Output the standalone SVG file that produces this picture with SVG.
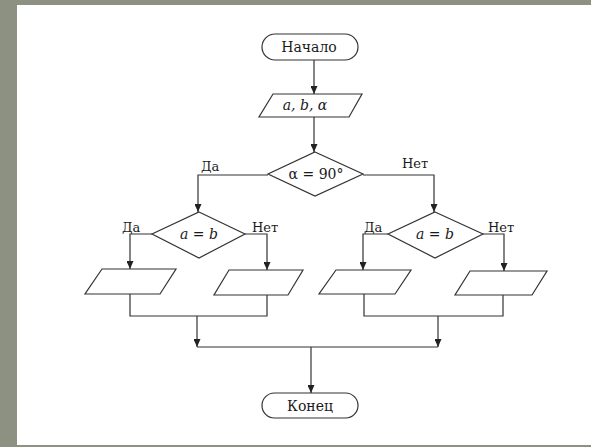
<svg xmlns="http://www.w3.org/2000/svg" width="591" height="447" viewBox="0 0 591 447">
<defs>
<marker id="arr" viewBox="0 0 8 7" refX="8" refY="3.5" markerWidth="8" markerHeight="7" markerUnits="userSpaceOnUse" orient="auto">
<path d="M0,0 L8,3.5 L0,7 z" fill="#222"/>
</marker>
</defs>
<style>
.shape{fill:#fff;stroke:#333;stroke-width:1.2}
.line{fill:none;stroke:#333;stroke-width:1.2}
.arrow{fill:none;stroke:#333;stroke-width:1.2;marker-end:url(#arr)}
text{font-family:'DejaVu Serif','Liberation Serif',serif;fill:#1a1a1a}
.t{font-size:14px;text-anchor:middle}
.lbl{font-size:13px}
.it{font-style:italic}
</style>
<rect x="0" y="0" width="591" height="447" fill="#8d9182"/>
<rect x="17" y="5" width="574" height="440" fill="#fff"/>

<g id="connectors">
<line class="arrow" x1="314" y1="60" x2="314" y2="94"/>
<line class="arrow" x1="314" y1="117" x2="314" y2="152"/>
<polyline class="arrow" points="268,175 198,175 198,212"/>
<polyline class="arrow" points="363,175 434,175 434,212"/>
<polyline class="arrow" points="152,234 130,234 130,269"/>
<polyline class="arrow" points="245,234 267,234 267,270"/>
<polyline class="arrow" points="388,234 363,234 363,270"/>
<polyline class="arrow" points="483,234 504,234 504,271"/>
<polyline class="line" points="130,294 130,316 267,316 267,295"/>
<polyline class="line" points="364,294 364,316 503,316 503,295"/>
<line class="arrow" x1="197" y1="316" x2="197" y2="347"/>
<line class="arrow" x1="438" y1="316" x2="438" y2="347"/>
<line class="line" x1="197" y1="347" x2="438" y2="347"/>
<line class="arrow" x1="311" y1="347" x2="311" y2="393"/>
</g>

<g id="start">
<rect class="shape" x="262" y="34" width="96" height="26" rx="13"/>
<text class="t" x="309" y="52">Начало</text>
</g>
<g id="input">
<polygon class="shape" points="273,94 362,94 349,117 259,117"/>
<text class="t it" x="305" y="110">a, b, α</text>
</g>
<g id="cond-angle">
<polygon class="shape" points="315,152 363,174 315,196 268,174"/>
<text class="t" x="316" y="179">α = 90°</text>
</g>
<g id="cond-left">
<polygon class="shape" points="199,212 245,234 199,258 152,234"/>
<text class="t" x="199" y="239"><tspan class="it">a</tspan> = <tspan class="it">b</tspan></text>
</g>
<g id="cond-right">
<polygon class="shape" points="435,212 483,234 435,258 388,234"/>
<text class="t" x="435" y="239"><tspan class="it">a</tspan> = <tspan class="it">b</tspan></text>
</g>
<g id="out1"><polygon class="shape" points="102,269 176,269 160,294 85,294"/></g>
<g id="out2"><polygon class="shape" points="229,270 303,270 288,295 214,295"/></g>
<g id="out3"><polygon class="shape" points="336,270 411,270 395,294 319,294"/></g>
<g id="out4"><polygon class="shape" points="470,271 547,271 532,295 455,295"/></g>
<g id="end">
<rect class="shape" x="262" y="393" width="96" height="25" rx="12.5"/>
<text class="t" x="310" y="410.5">Конец</text>
</g>

<g id="labels">
<text class="lbl" x="201" y="171">Да</text>
<text class="lbl" x="402" y="168">Нет</text>
<text class="lbl" x="122" y="232">Да</text>
<text class="lbl" x="252" y="232">Нет</text>
<text class="lbl" x="364" y="232">Да</text>
<text class="lbl" x="488" y="232">Нет</text>
</g>
</svg>
